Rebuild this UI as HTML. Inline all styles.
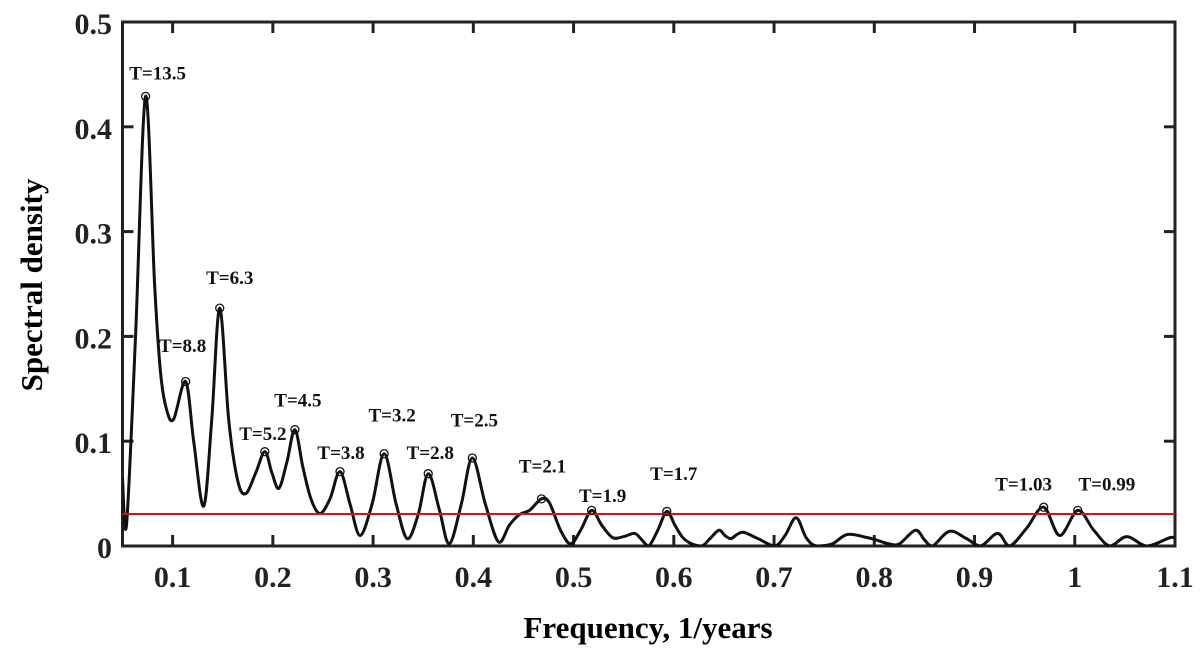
<!DOCTYPE html>
<html><head><meta charset="utf-8"><style>
html,body{margin:0;padding:0;background:#fff;}
svg{display:block;font-family:"Liberation Serif",serif;font-weight:bold;}
</style></head><body>
<svg id="chart" width="1200" height="660" viewBox="0 0 1200 660" xmlns="http://www.w3.org/2000/svg">
<g id="axes"></g>
<g id="plot"></g>
<text transform="translate(42,285) rotate(-90)" text-anchor="middle" font-size="31">Spectral density</text>
<text x="648" y="638" text-anchor="middle" font-size="31">Frequency, 1/years</text>
</svg>
<script>
const freqs = [0.05,0.054,0.063,0.073,0.082,0.088,0.094,0.101,0.113,0.121,0.131,0.139,0.147,0.156,0.165,0.173,0.183,0.192,0.199,0.206,0.214,0.222,0.23,0.238,0.247,0.257,0.267,0.277,0.287,0.299,0.311,0.323,0.334,0.345,0.355,0.366,0.376,0.388,0.399,0.412,0.425,0.436,0.446,0.456,0.468,0.476,0.487,0.497,0.507,0.518,0.528,0.539,0.55,0.561,0.568,0.575,0.584,0.593,0.601,0.609,0.618,0.628,0.636,0.645,0.651,0.657,0.663,0.67,0.684,0.7006,0.711,0.722,0.732,0.742,0.758,0.773,0.793,0.801,0.815,0.825,0.841,0.85,0.858,0.875,0.892,0.906,0.923,0.935,0.952,0.969,0.985,1.003,1.019,1.035,1.052,1.072,1.095,1.1];
const values = [0.065,0.02,0.2,0.429,0.25,0.165,0.13,0.121,0.157,0.1,0.038,0.12,0.227,0.12,0.062,0.05,0.07,0.09,0.07,0.055,0.08,0.111,0.075,0.045,0.031,0.045,0.071,0.04,0.01,0.04,0.088,0.04,0.007,0.03,0.069,0.035,0.002,0.04,0.084,0.04,0.004,0.02,0.03,0.034,0.045,0.041,0.015,0.002,0.015,0.034,0.02,0.008,0.009,0.012,0.006,0.0,0.015,0.033,0.02,0.008,0.002,0.0,0.007,0.015,0.01,0.007,0.011,0.013,0.007,0.0,0.01,0.027,0.008,0.0,0.002,0.011,0.008,0.006,0.002,0.002,0.015,0.006,0.0,0.014,0.007,0.0,0.012,0.0,0.017,0.037,0.01,0.034,0.015,0.0,0.009,0.0,0.008,0.007];
const peakFreqs = [0.073,0.113,0.147,0.192,0.222,0.267,0.311,0.355,0.399,0.468,0.518,0.593,0.969,1.003];
const peakValues = [0.429,0.157,0.227,0.090,0.111,0.071,0.088,0.069,0.084,0.045,0.034,0.033,0.037,0.034];
const peakLabels = ["T=13.5","T=8.8","T=6.3","T=5.2","T=4.5","T=3.8","T=3.2","T=2.8","T=2.5","T=2.1","T=1.9","T=1.7","T=1.03","T=0.99"];
const labelAnchorsF = [0.085,0.110,0.157,0.190,0.225,0.268,0.319,0.357,0.401,0.469,0.529,0.600,0.949,1.032];
const labelAnchorsV = [0.445,0.185,0.250,0.101,0.133,0.083,0.119,0.083,0.114,0.070,0.042,0.063,0.053,0.053];
const xTicks = [0.1,0.2,0.3,0.4,0.5,0.6,0.7,0.8,0.9,1.0,1.1];
const xTickLabels = ["0.1","0.2","0.3","0.4","0.5","0.6","0.7","0.8","0.9","1","1.1"];
const yTicks = [0,0.1,0.2,0.3,0.4,0.5];
const yTickLabels = ["0","0.1","0.2","0.3","0.4","0.5"];
const threshold = 0.0305;

const X0=122.5, X1=1175, Y0=546, Y1=22, FMIN=0.05, FMAX=1.1, VMIN=0, VMAX=0.5;
const sx = f => X0 + (f-FMIN)/(FMAX-FMIN)*(X1-X0);
const sy = v => Y0 - (v-VMIN)/(VMAX-VMIN)*(Y0-Y1);
const NS="http://www.w3.org/2000/svg";
function mk(tag, parent, attrs){const e=document.createElementNS(NS,tag);for(const k in attrs)e.setAttribute(k,attrs[k]);parent.appendChild(e);return e;}
const axes=document.getElementById('axes'), plot=document.getElementById('plot');

// curve (Catmull-Rom)
const pts = freqs.map((f,i)=>[sx(f),sy(values[i])]);
let d=`M${pts[0][0]},${pts[0][1]}`;
for(let i=0;i<pts.length-1;i++){
  const p0=pts[Math.max(0,i-1)],p1=pts[i],p2=pts[i+1],p3=pts[Math.min(pts.length-1,i+2)];
  const c1=[p1[0]+(p2[0]-p0[0])/6,p1[1]+(p2[1]-p0[1])/6];
  const c2=[p2[0]-(p3[0]-p1[0])/6,p2[1]-(p3[1]-p1[1])/6];
  d+=`C${c1[0]},${Math.min(Y0,c1[1])} ${c2[0]},${Math.min(Y0,c2[1])} ${p2[0]},${p2[1]}`;
}
const clip=mk('clipPath',plot,{id:'clipArea'});
mk('rect',clip,{x:X0,y:Y1,width:X1-X0,height:Y0-Y1});
const line=mk('path',plot,{d:d,fill:'none',stroke:'#111','stroke-width':3,'clip-path':'url(#clipArea)'});



const red=mk('line',plot,{x1:X0,x2:X1,y1:sy(threshold),y2:sy(threshold),stroke:'#e01010','stroke-width':2});



peakFreqs.forEach((f,i)=>{
  const c=mk('circle',plot,{cx:sx(f),cy:sy(peakValues[i]),r:4,fill:'none',stroke:'#111','stroke-width':1.3});
  
  
  const t=mk('text',plot,{x:sx(labelAnchorsF[i]),y:sy(labelAnchorsV[i]),'text-anchor':'middle','font-size':19,fill:'#111'});
  t.textContent=peakLabels[i];
  
  
});

// axes frame
const frame=mk('rect',axes,{x:X0,y:Y1,width:X1-X0,height:Y0-Y1,fill:'none',stroke:'#222','stroke-width':3});


xTicks.forEach((f,i)=>{
  const x=sx(f);
  if(f<FMAX){
    const t1=mk('line',axes,{x1:x,x2:x,y1:Y0,y2:Y0-11,stroke:'#222','stroke-width':3});
    
    
    const t2=mk('line',axes,{x1:x,x2:x,y1:Y1,y2:Y1+11,stroke:'#222','stroke-width':3});
    
    
  }
  const l=mk('text',axes,{x:x,y:587,'text-anchor':'middle','font-size':30,fill:'#222'});
  l.textContent=xTickLabels[i];
  
  
});
yTicks.forEach((v,i)=>{
  const y=sy(v);
  if(v>VMIN&&v<VMAX){
    const t1=mk('line',axes,{x1:X0,x2:X0+11,y1:y,y2:y,stroke:'#222','stroke-width':3});
    
    
    const t2=mk('line',axes,{x1:X1,x2:X1-11,y1:y,y2:y,stroke:'#222','stroke-width':3});
    
    
  }
  const l=mk('text',axes,{x:112,y:y+12,'text-anchor':'end','font-size':30,fill:'#222'});
  l.textContent=yTickLabels[i];
  
  
});
</script>
</body></html>
